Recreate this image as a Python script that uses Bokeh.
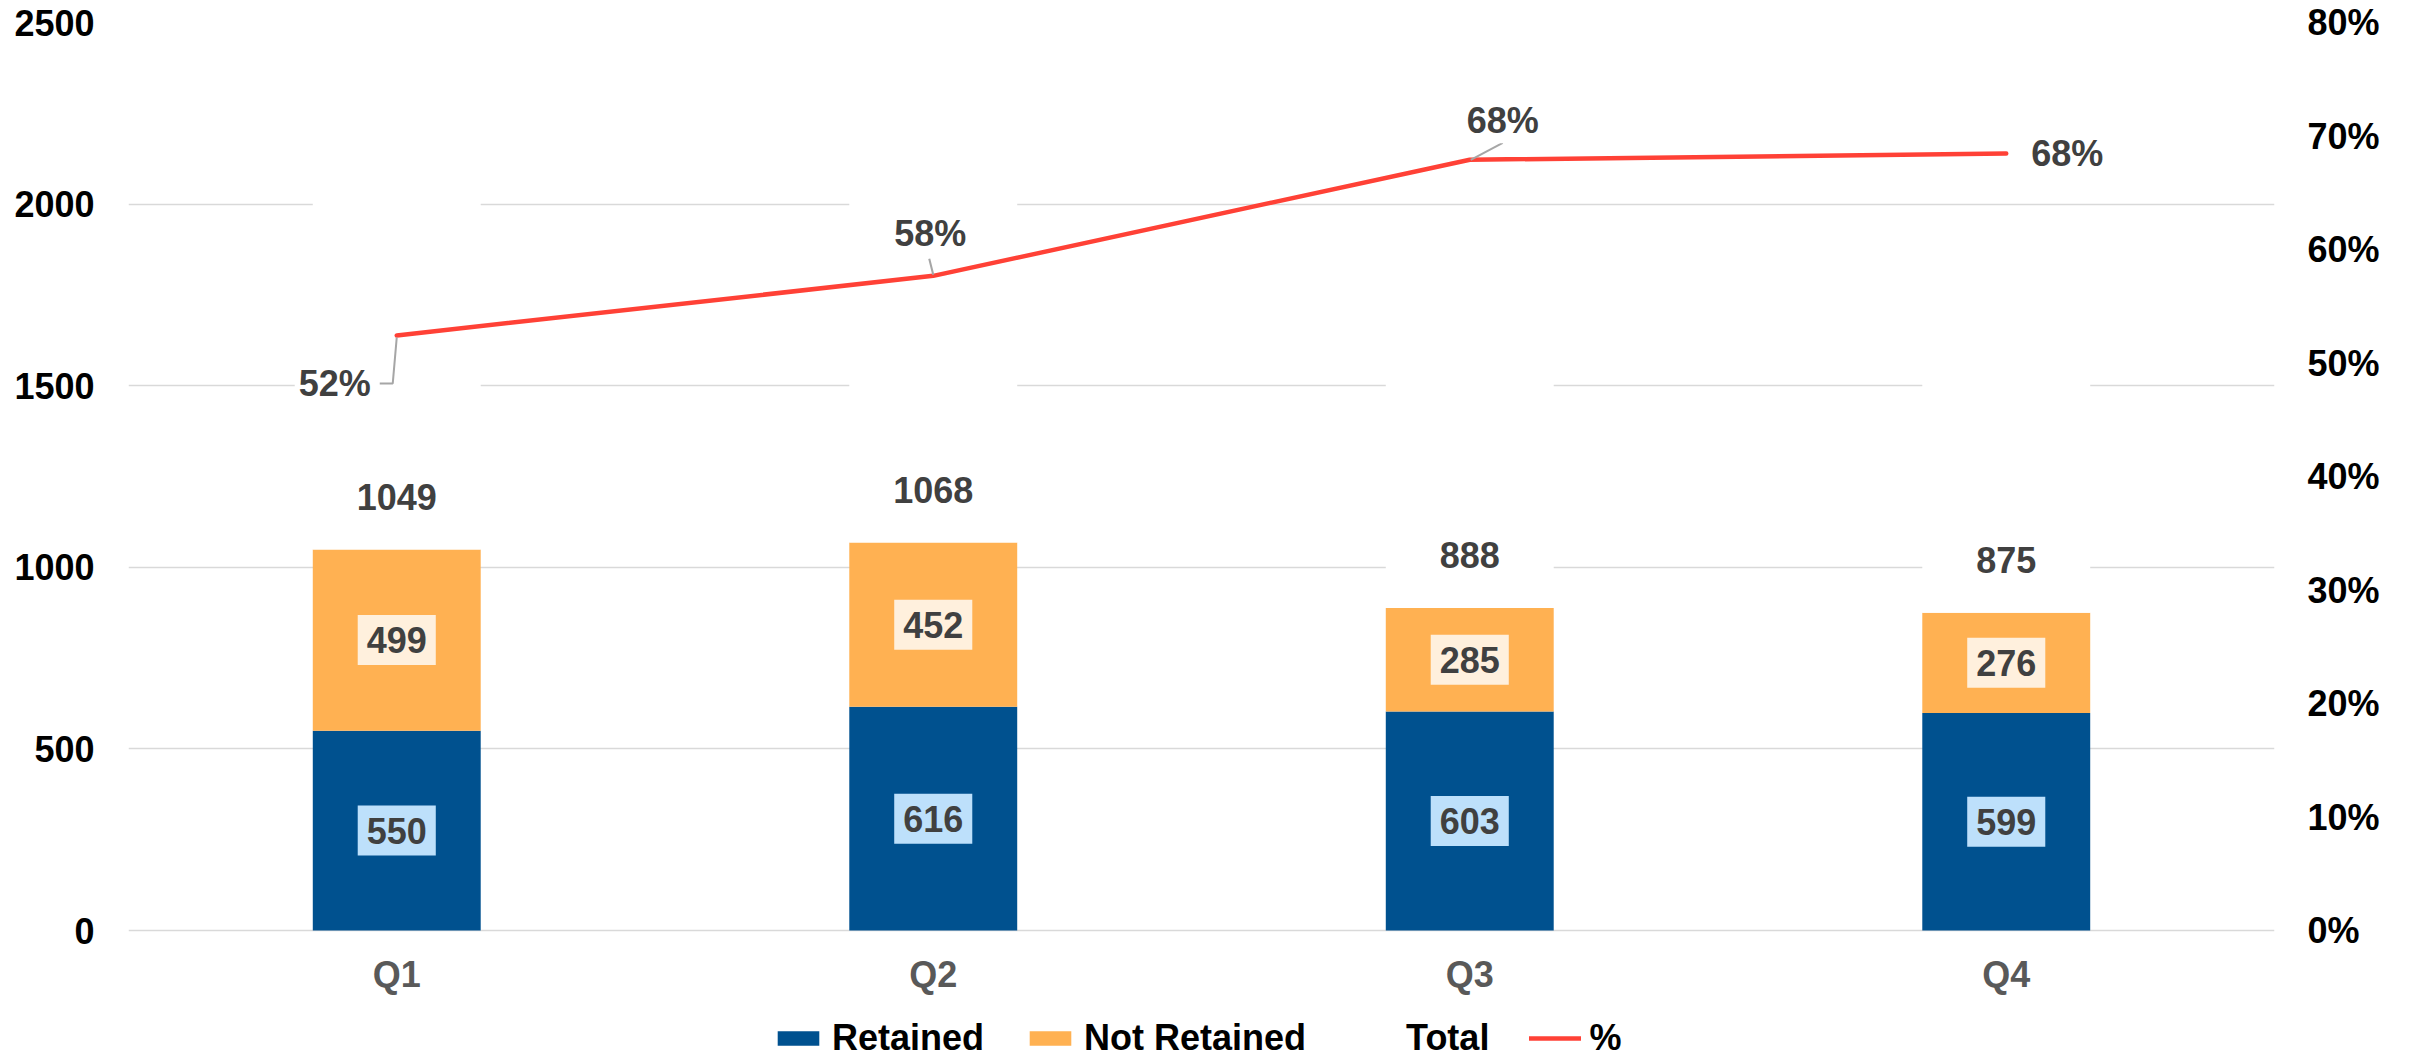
from bokeh.plotting import figure
from bokeh.models import (Range1d, FactorRange, LinearAxis, FixedTicker, ColumnDataSource,
                          Legend, LegendItem, PrintfTickFormatter)
from bokeh.core.properties import value
from bokeh.embed import file_html
from bokeh.resources import INLINE

# ---------------- data ----------------
quarters = ["Q1", "Q2", "Q3", "Q4"]
retained = [550, 616, 603, 599]
not_retained = [499, 452, 285, 276]
totals = [1049, 1068, 888, 875]
left_ticks = [0, 500, 1000, 1500, 2000, 2500]
right_ticks = [0, 10, 20, 30, 40, 50, 60, 70, 80]

pct = [r / t * 100 for r, t in zip(retained, totals)]
pct_labels = ["{:.0f}%".format(v) for v in pct]

# ---------------- layout ----------------
W, H = 2415, 1059
ML, MR, MT, MB = 128, 141, 22, 0
FW = W - ML - MR              # frame width
PLOT_H = 908                  # pixels from top value to zero line
EXTRA = H - MT - MB - PLOT_H  # frame pixels below the zero line (category labels + legend)
Y_MAX = 2500
P_MAX = 80
PX_X = FW / len(quarters)     # pixels per category unit
PX_P = PLOT_H / P_MAX         # pixels per percent

FONT = value("Liberation Sans")
BLUE = "#00518F"
ORANGE = "#FFB152"
RED = "#FF4136"
LABEL_GREY = "#404040"

p = figure(width=W, height=H, x_range=FactorRange(factors=quarters, range_padding=0, factor_padding=0),
           y_range=Range1d(-Y_MAX * EXTRA / PLOT_H, Y_MAX), output_backend="svg", toolbar_location=None,
           x_axis_location=None,
           min_border_left=ML, min_border_right=MR, min_border_top=MT, min_border_bottom=MB)
p.outline_line_color = None
p.background_fill_color = "white"
p.border_fill_color = "white"

p.extra_y_ranges = {"pct": Range1d(-P_MAX * EXTRA / PLOT_H, P_MAX)}

# grid
p.xgrid.grid_line_color = None
p.ygrid.ticker = FixedTicker(ticks=left_ticks)
p.ygrid.grid_line_color = "#D9D9D9"
p.ygrid.grid_line_width = 1.5


def style_axis(ax, standoff):
    ax.axis_line_color = None
    ax.major_tick_line_color = None
    ax.minor_tick_line_color = None
    ax.major_tick_out = 0
    ax.major_tick_in = 0
    ax.major_label_standoff = standoff
    ax.major_label_text_font = "Liberation Sans"
    ax.major_label_text_font_size = "36px"
    ax.major_label_text_font_style = "bold"
    ax.major_label_text_color = "black"


ya = p.yaxis[0]
ya.ticker = FixedTicker(ticks=left_ticks)
style_axis(ya, 34)

ra = LinearAxis(y_range_name="pct", ticker=FixedTicker(ticks=right_ticks),
                formatter=PrintfTickFormatter(format="%d%%"))
style_axis(ra, 33)
p.add_layout(ra, "right")

# ---------------- bars ----------------
src = ColumnDataSource(dict(
    q=quarters, ret=retained, nret=not_retained, tot=totals,
    top_nret=[r + n for r, n in zip(retained, not_retained)],
    top_tot=[2 * t for t in totals],
    ret_mid=[r / 2 for r in retained],
    nret_mid=[r + n / 2 for r, n in zip(retained, not_retained)],
    ret_txt=[str(v) for v in retained],
    nret_txt=[str(v) for v in not_retained],
    tot_txt=[str(v) for v in totals],
    zero=[0] * len(quarters),
    pct=pct, pct_txt=pct_labels,
))

BW = 0.313
r_ret = p.vbar(x="q", bottom=0, top="ret", width=BW, source=src, fill_color=BLUE, line_color=None)
r_nret = p.vbar(x="q", bottom="ret", top="top_nret", width=BW, source=src, fill_color=ORANGE, line_color=None)
r_tot = p.vbar(x="q", bottom="tot", top="top_tot", width=BW, source=src, fill_color="white", line_color=None)

# category labels (under the zero line)
p.text(x="q", y="zero", text="q", source=src, y_offset=44, text_font=FONT, text_font_size="36px",
       text_font_style="bold", text_color="#595959", text_align="center", text_baseline="middle")

# segment labels
p.text(x="q", y="ret_mid", text="ret_txt", source=src, text_font=FONT, text_font_size="36px",
       text_font_style="bold", text_color=LABEL_GREY, text_align="center", text_baseline="middle",
       background_fill_color="#BDE0FB", padding=dict(left=9, right=9, top=12, bottom=12))
p.text(x="q", y="nret_mid", text="nret_txt", source=src, text_font=FONT, text_font_size="36px",
       text_font_style="bold", text_color=LABEL_GREY, text_align="center", text_baseline="middle",
       background_fill_color="#FFF0DD", padding=dict(left=9, right=9, top=12, bottom=12))
# total labels
p.text(x="q", y="tot", text="tot_txt", source=src, y_offset=-53, text_font=FONT, text_font_size="36px",
       text_font_style="bold", text_color=LABEL_GREY, text_align="center", text_baseline="middle")

# ---------------- line ----------------
r_line = p.line(x="q", y="pct", source=src, y_range_name="pct", line_color=RED, line_width=4.5,
                line_cap="round", line_join="round")

# leader lines (pixel offsets from each point)
leader_px = {
    0: [(-17, 48), (-4, 48), (0, 2)],
    1: [(-4, -17), (0, -1)],
    2: [(33, -17), (1, 0)],
}
lxs, lys = [], []
for i, pts in leader_px.items():
    lxs.append([i + 0.5 + dx / PX_X for dx, dy in pts])
    lys.append([pct[i] - dy / PX_P for dx, dy in pts])
p.multi_line(xs=lxs, ys=lys, y_range_name="pct", line_color="#A6A6A6", line_width=2)

# percentage labels
lbl_dx = [-62, -3, 33, 61]
lbl_dy = [48, -42, -39, 0]
src_p = ColumnDataSource(dict(q=quarters, pct=pct, txt=pct_labels, dx=lbl_dx, dy=lbl_dy))
p.text(x="q", y="pct", text="txt", source=src_p, y_range_name="pct", x_offset="dx", y_offset="dy",
       text_font=FONT, text_font_size="36px", text_font_style="bold", text_color=LABEL_GREY,
       text_align="center", text_baseline="middle", background_fill_color="white",
       padding=dict(left=4, right=4, top=2, bottom=2))

# ---------------- legend ----------------
legend = Legend(items=[
    LegendItem(label="Retained", renderers=[r_ret]),
    LegendItem(label="Not Retained", renderers=[r_nret]),
    LegendItem(label="Total", renderers=[r_tot]),
    LegendItem(label="%", renderers=[r_line]),
], orientation="horizontal", location=(772 - ML, 0), glyph_width=52, glyph_height=18,
    label_standoff=8, spacing=40, padding=0, margin=0, border_line_color=None,
    background_fill_alpha=0, label_text_font="Liberation Sans", label_text_font_size="36px",
    label_text_font_style="bold", label_text_color="black")
p.add_layout(legend, "center")

open("out.html", "w").write(file_html(p, INLINE))
